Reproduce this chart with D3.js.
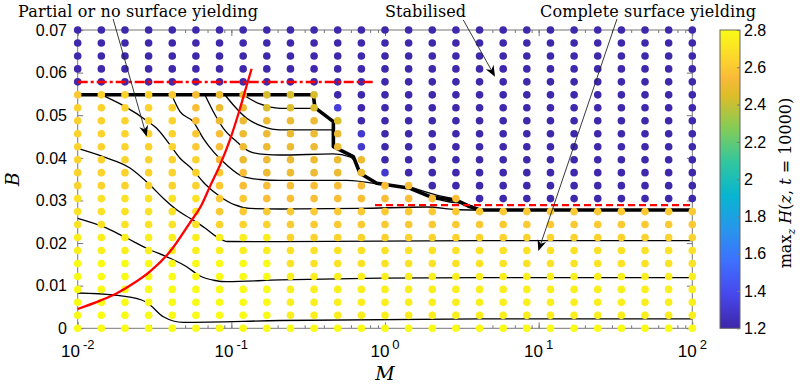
<!DOCTYPE html>
<html>
<head>
<meta charset="utf-8">
<script src="https://cdn.jsdelivr.net/npm/d3@7"></script>
<style>
body { margin: 0; background: #fff; }
svg { display: block; }
</style>
</head>
<body>
<svg id="chart" width="800" height="386"></svg>
<script>
// simulation grid
var mGrid = [0.01, 0.014251, 0.020309, 0.028943, 0.041246, 0.05878, 0.083768, 0.119378, 0.170125,
    0.242446, 0.345511, 0.492388, 0.701704, 1, 1.425103, 2.030918, 2.894266, 4.124626, 5.878016,
    8.376776, 11.937766, 17.012543, 24.24462, 34.551073, 49.238826, 70.170383, 100];
var bGrid = [0.07, 0.06696, 0.06391, 0.06087, 0.05783, 0.05478, 0.05174, 0.0487, 0.04565, 0.04261,
    0.03957, 0.03652, 0.03348, 0.03043, 0.02739, 0.02435, 0.0213, 0.01826, 0.01522, 0.01217,
    0.00913, 0.00609, 0.00304, 0];

// one row per bGrid entry (top first), one char per mGrid column
var hCodes = [
    "aaaaaaaaaaaaaaaaaaaaaaaaaaa",
    "aaaaaaaaaaaaaaaaaaaaaaaaaaa",
    "aaaaaaaaaaaaaaaaaaaaaaaaaaa",
    "aaaaaaaaaaaaaaaaaaaaaaaaaaa",
    "aaaaaaaaaaaaaaaaaaaaaaaaaaa",
    "56665433222aaaaaaaaaaaaaaaa",
    "66666433222caaaaaaaaaaaaaaa",
    "666664333332aaaaaaaaaaaaaaa",
    "666665433333baaaaaaaaaaaaaa",
    "666665433333baaaaaaaaaaaaaa",
    "6666664333333aaaaaaaaaaaaaa",
    "6666665433333baaaaaaaaaaaaa",
    "666666544444444aaaaaaaaaaaa",
    "77777755444444444aaaaaaaaaa",
    "777777555555555555555555555",
    "777777666555555555555555555",
    "888888888666666666666666666",
    "888888888777777777777777777",
    "999999999777777777777777777",
    "999999999888888888888888888",
    "999999999888888888888888888",
    "999999999888888888888888888",
    "999999999888888888888888888",
    "999999999999999999999999999"
];
var codeValue = {a: 1.21, b: 1.3, c: 1.33, "2": 2.44, "3": 2.5, "4": 2.56, "5": 2.6,
    "6": 2.64, "7": 2.7, "8": 2.75, "9": 2.8};

// contour lines [M, B]
var line1 = [[0.01419, 0.05482], [0.01982, 0.05224], [0.02877, 0.04849], [0.03266, 0.04694], [0.0399, 0.04302],
    [0.04634, 0.0399], [0.05462, 0.03762], [0.06737, 0.03387], [0.08433, 0.03093], [0.1056, 0.02894],
    [0.1321, 0.02812], [0.2075, 0.028], [0.6871, 0.02812], [1.876, 0.02847], [2.899, 0.02788], [3.911, 0.02776]];
var line2 = [[0.01, 0.0422], [0.01461, 0.04027], [0.02189, 0.03762], [0.02955, 0.03363], [0.0359, 0.03058],
    [0.04428, 0.02776], [0.05383, 0.02582], [0.06737, 0.02354], [0.08063, 0.02143], [0.09423, 0.02037],
    [0.2075, 0.02032], [4.15, 0.02056], [100, 0.02056]];
var line3 = [[0.01, 0.02582], [0.01468, 0.02384], [0.02001, 0.0215], [0.02812, 0.01878], [0.0399, 0.01643],
    [0.05117, 0.01446], [0.06252, 0.01227], [0.07826, 0.01122], [0.09333, 0.01094], [0.2075, 0.01134],
    [4.15, 0.01188], [100, 0.01188]];
var line4 = [[0.01, 0.00828], [0.01706, 0.00781], [0.02609, 0.00664], [0.02955, 0.00547], [0.03606, 0.00272],
    [0.04864, 0.00141], [0.2075, 0.00183], [4.15, 0.00223], [100, 0.00223]];
var line5 = [[0.04093, 0.05475], [0.04634, 0.05083], [0.05649, 0.04849], [0.06561, 0.04459], [0.07638, 0.04145],
    [0.09333, 0.03832], [0.1197, 0.03558], [0.1535, 0.03492], [0.2075, 0.03469], [0.5636, 0.03469], [0.8831, 0.03387]];
var line6 = [[0.06737, 0.05475], [0.07638, 0.05083], [0.08872, 0.04694], [0.1084, 0.04379], [0.1321, 0.04145],
    [0.1656, 0.04079], [0.2075, 0.04067], [0.4613, 0.04091], [0.5916, 0.0402], [0.6668, 0.03832]];
var line7 = [[0.09099, 0.05475], [0.103, 0.05241], [0.1259, 0.04928], [0.1614, 0.04731], [0.2075, 0.04654],
    [0.4613, 0.04654]];
var line8 = [[0.1197, 0.05475], [0.1535, 0.05264], [0.2075, 0.05163], [0.3499, 0.05163]];
var fanA = [[1.455, 0.0332], [2.2, 0.0312], [3.0, 0.0301], [3.7, 0.0286], [4.15, 0.0278]];
var fanB = [[1.963, 0.0306], [2.6, 0.0297], [3.4, 0.0291], [4.15, 0.0279]];
var boundary = [[0.01, 0.05482], [0.3415, 0.05482], [0.3499, 0.05177], [0.4613, 0.04849], [0.4613, 0.04262],
    [0.6223, 0.04027], [0.6871, 0.03638], [0.8831, 0.03403], [1.455, 0.03286], [1.963, 0.03088],
    [2.928, 0.02999], [3.469, 0.0287], [4.15, 0.02776], [100, 0.02776]];

// red criteria
var redCurve = [[0.01, 0.00453], [0.014, 0.0065], [0.0175, 0.008], [0.023, 0.0105], [0.0295, 0.0133],
    [0.0399, 0.018], [0.0538, 0.0248], [0.0641, 0.029], [0.0726, 0.0333], [0.0843, 0.0383],
    [0.098, 0.0443], [0.1126, 0.051], [0.1259, 0.057], [0.1355, 0.0609]];
var redDashDot = [[0.01, 0.0578], [0.861, 0.0578]];
var redDash = [[0.861, 0.0289], [100, 0.0289]];

var xMajor = [0.01, 0.1, 1, 10, 100];
var xExponents = ["-2", "-1", "0", "1", "2"];
var yTicks = [0, 0.01, 0.02, 0.03, 0.04, 0.05, 0.06, 0.07];
var yTickLabels = ["0", "0.01", "0.02", "0.03", "0.04", "0.05", "0.06", "0.07"];
var cbTicks = [1.2, 1.4, 1.6, 1.8, 2, 2.2, 2.4, 2.6, 2.8];
var cbTickLabels = ["1.2", "1.4", "1.6", "1.8", "2", "2.2", "2.4", "2.6", "2.8"];

var parulaT = [0, 0.111, 0.222, 0.333, 0.444, 0.556, 0.667, 0.778, 0.84, 0.889, 1];
var parulaHex = ["#3e26a8", "#4747eb", "#3e6fff", "#2796eb", "#08b5d0", "#31c69f", "#81cc59",
    "#dcbd29", "#f9ba38", "#fccf30", "#f9fb15"];

var annotations = [
    {text: "Partial or no surface yielding", tx: 18, ty: 17, width: 240, from: [0.017, 0.07259], to: [0.02812, 0.045]},
    {text: "Stabilised", tx: 385, ty: 17, width: 81, from: [3.232, 0.07236], to: [5.2, 0.05905]},
    {text: "Complete surface yielding", tx: 540, ty: 17, width: 216, from: [32.35, 0.07259], to: [9.95, 0.01814]}
];

var svg = d3.select("#chart");
var plotL = 77.7, plotR = 692.3, plotT = 30, plotB = 328.3;
var axisColor = "#777";
var serif = "'DejaVu Serif', serif", sans = "'Liberation Sans', Arial, sans-serif";

var x = d3.scaleLog().domain([0.01, 100]).range([plotL, plotR]);
var y = d3.scaleLinear().domain([0, 0.07]).range([plotB, plotT]);
var hMin = 1.2, hMax = 2.8;
var color = d3.scaleLinear()
    .domain(parulaT.map(function (t) { return hMin + t * (hMax - hMin); }))
    .range(parulaHex)
    .clamp(true);

// axes box + ticks
var axes = svg.append("g");
axes.append("rect").attr("x", plotL).attr("y", plotT).attr("width", plotR - plotL).attr("height", plotB - plotT)
    .attr("fill", "none").attr("stroke", axisColor).attr("stroke-width", 1);

function styleAxis(g) {
    g.select(".domain").remove();
    g.selectAll(".tick line").attr("stroke", axisColor);
}
axes.append("g").attr("transform", "translate(0," + plotB + ")")
    .call(d3.axisBottom(x).tickValues(x.ticks()).tickSize(-3).tickFormat("")).call(styleAxis);
axes.append("g").attr("transform", "translate(0," + plotT + ")")
    .call(d3.axisTop(x).tickValues(x.ticks()).tickSize(-3).tickFormat("")).call(styleAxis);
axes.append("g").attr("transform", "translate(0," + plotB + ")")
    .call(d3.axisBottom(x).tickValues(xMajor).tickSize(-6).tickFormat("")).call(styleAxis);
axes.append("g").attr("transform", "translate(0," + plotT + ")")
    .call(d3.axisTop(x).tickValues(xMajor).tickSize(-6).tickFormat("")).call(styleAxis);
axes.append("g").attr("transform", "translate(" + plotL + ",0)")
    .call(d3.axisLeft(y).tickValues(yTicks).tickSize(-5.5).tickFormat("")).call(styleAxis);
axes.append("g").attr("transform", "translate(" + plotR + ",0)")
    .call(d3.axisRight(y).tickValues(yTicks).tickSize(-5.5).tickFormat("")).call(styleAxis);

// tick labels
var xl = svg.append("g").selectAll("text").data(xMajor).enter().append("text")
    .attr("x", function (d) { return x(d); })
    .attr("y", 356.5)
    .attr("text-anchor", "middle")
    .style("font-family", sans)
    .style("font-size", "17px");
xl.append("tspan").text("10");
xl.append("tspan").attr("dx", 3).attr("dy", -8).style("font-size", "13px")
    .text(function (d, i) { return xExponents[i]; });

svg.append("g").selectAll("text").data(yTicks).enter().append("text")
    .attr("x", 67)
    .attr("y", function (d) { return y(d); })
    .attr("dy", "0.36em")
    .attr("text-anchor", "end")
    .style("font-family", sans)
    .style("font-size", "16px")
    .text(function (d, i) { return yTickLabels[i]; });

svg.append("text").attr("x", x(1)).attr("y", 380).attr("text-anchor", "middle")
    .style("font-family", serif).style("font-style", "italic").style("font-size", "19px").text("M");
svg.append("text").attr("transform", "translate(19," + ((plotT + plotB) / 2) + ") rotate(-90)")
    .attr("text-anchor", "middle")
    .style("font-family", serif).style("font-style", "italic").style("font-size", "19px").text("B");

// contour lines
var path = d3.line().x(function (d) { return x(d[0]); }).y(function (d) { return y(d[1]); });
var smooth = d3.line().x(function (d) { return x(d[0]); }).y(function (d) { return y(d[1]); })
    .curve(d3.curveMonotoneX);
var contours = svg.append("g").attr("fill", "none").attr("stroke", "#000");
[line1, line2, line3, line4, line5, line6, line7, line8, fanA, fanB].forEach(function (l) {
    contours.append("path").attr("d", smooth(l)).attr("stroke-width", 1.3);
});
contours.append("path").attr("d", path(boundary)).attr("stroke-width", 3.6).attr("stroke-linejoin", "round");

// grid points
var cells = [];
hCodes.forEach(function (row, i) {
    row.split("").forEach(function (c, j) {
        cells.push({m: mGrid[j], b: bGrid[i], h: codeValue[c]});
    });
});
svg.append("g").selectAll("circle").data(cells).enter().append("circle")
    .attr("cx", function (d) { return x(d.m); })
    .attr("cy", function (d) { return y(d.b); })
    .attr("r", 3.8)
    .attr("fill", function (d) { return color(d.h); });

// red criteria
var red = svg.append("g").attr("fill", "none").attr("stroke", "#ff0000").attr("stroke-width", 2.3);
red.append("path").attr("d", smooth(redCurve));
red.append("path").attr("d", path(redDashDot)).attr("stroke-dasharray", "10,3,3,3");
red.append("path").attr("d", path(redDash)).attr("stroke-dasharray", "7,4");

// annotations
var ann = svg.append("g");
annotations.forEach(function (a) {
    ann.append("text").attr("x", a.tx).attr("y", a.ty)
        .attr("textLength", a.width).attr("lengthAdjust", "spacing")
        .style("font-family", serif).style("font-size", "16px").text(a.text);
    var p0 = [x(a.from[0]), y(a.from[1])], p1 = [x(a.to[0]), y(a.to[1])];
    var dx = p1[0] - p0[0], dy = p1[1] - p0[1], len = Math.sqrt(dx * dx + dy * dy);
    var ux = dx / len, uy = dy / len, L = 11, W = 4.5;
    var base = [p1[0] - ux * L, p1[1] - uy * L], notch = [p1[0] - ux * L * 0.7, p1[1] - uy * L * 0.7];
    ann.append("line").attr("x1", p0[0]).attr("y1", p0[1]).attr("x2", notch[0]).attr("y2", notch[1])
        .attr("stroke", "#222").attr("stroke-width", 0.9);
    ann.append("path")
        .attr("d", "M" + p1[0] + "," + p1[1] +
            "L" + (base[0] - uy * W) + "," + (base[1] + ux * W) +
            "L" + notch[0] + "," + notch[1] +
            "L" + (base[0] + uy * W) + "," + (base[1] - ux * W) + "Z")
        .attr("fill", "#000");
});

// colorbar
var cbX = 720, cbW = 20;
var cy = d3.scaleLinear().domain([hMin, hMax]).range([plotB, plotT]);
var grad = svg.append("defs").append("linearGradient").attr("id", "parula")
    .attr("x1", 0).attr("y1", 1).attr("x2", 0).attr("y2", 0);
grad.selectAll("stop").data(parulaT).enter().append("stop")
    .attr("offset", function (d) { return d; })
    .attr("stop-color", function (d, i) { return parulaHex[i]; });
svg.append("rect").attr("x", cbX).attr("y", plotT).attr("width", cbW).attr("height", plotB - plotT)
    .attr("fill", "url(#parula)").attr("stroke", "#666").attr("stroke-width", 1);
svg.append("g").attr("transform", "translate(" + (cbX + cbW) + ",0)")
    .call(d3.axisRight(cy).tickValues(cbTicks).tickSize(-3).tickFormat("")).call(styleAxis);
svg.append("g").selectAll("text").data(cbTicks).enter().append("text")
    .attr("x", 744)
    .attr("y", function (d) { return cy(d); })
    .attr("dy", "0.36em")
    .style("font-family", sans)
    .style("font-size", "16px")
    .text(function (d, i) { return cbTickLabels[i]; });

var cbl = svg.append("text").attr("transform", "translate(791,183) rotate(-90)")
    .attr("text-anchor", "middle")
    .style("font-family", serif).style("font-size", "16px");
cbl.append("tspan").text("max");
cbl.append("tspan").attr("dy", 4).style("font-size", "11px").style("font-style", "italic").text("z");
cbl.append("tspan").attr("dy", -4).text(" ");
cbl.append("tspan").style("font-style", "italic").text("H");
cbl.append("tspan").text("(");
cbl.append("tspan").style("font-style", "italic").text("z");
cbl.append("tspan").text(", ");
cbl.append("tspan").style("font-style", "italic").text("t");
cbl.append("tspan").text(" = 10000)");
</script>
</body>
</html>
